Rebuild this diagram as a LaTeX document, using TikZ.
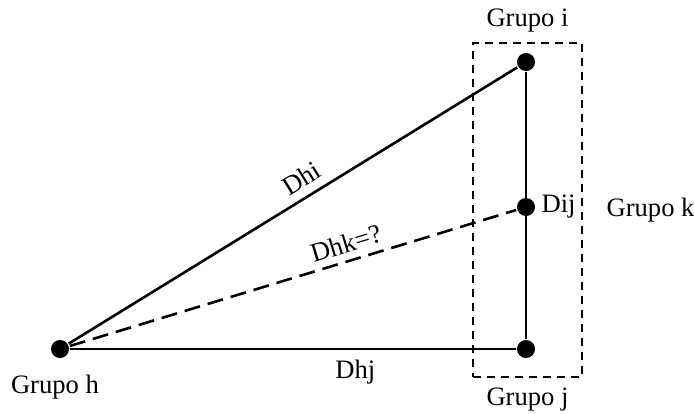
\documentclass[tikz,border=0pt]{standalone}
\usepackage{fontspec}
\setmainfont{Liberation Serif}
\usetikzlibrary{positioning, calc}

\begin{document}
\begin{tikzpicture}[x=0.5pt, y=-0.5pt, line width=1.3pt,
    dot/.style={circle, fill=black, inner sep=0pt, minimum size=9pt},
    lbl/.style={font=\fontsize{13.3}{16}\selectfont, inner sep=1pt}]
        \useasboundingbox (0,0) rectangle (694,413);
        % Group points
        \node [dot] (gh) at (60,349) {};
        \node [dot] (gi) at (526,62) {};
        \node [dot] (gk) at (526,207) {};
        \node [dot] (gj) at (526,349) {};
        % Dashed box round group k
        \node [draw, dash pattern=on 4pt off 3pt, minimum width=54.5pt, minimum height=167pt, inner sep=0pt] (box) at (527.5,210) {};
        % Distances
        \draw (gh) -- (gi) node [lbl, pos=0.54, sloped, above=3pt] {Dhi};
        \draw (gh) -- (gj) node [lbl, pos=0.64, below=4pt] {Dhj};
        \draw (gi) -- (gj);
        \draw [dash pattern=on 8pt off 4pt] (gh) -- (gk) node [lbl, pos=0.63, sloped, above=2.5pt] {Dhk=?};
        \node [lbl, right=1pt of gk] {Dij};
        % Group names
        \node [lbl, above=3pt of box] {Grupo i};
        \node [lbl, below=3pt of box] {Grupo j};
        \node [lbl, right=10pt of box] {Grupo k};
        \node [lbl, below=6pt of gh, xshift=-2.5pt] {Grupo h};
    \end{tikzpicture}
\end{document}
